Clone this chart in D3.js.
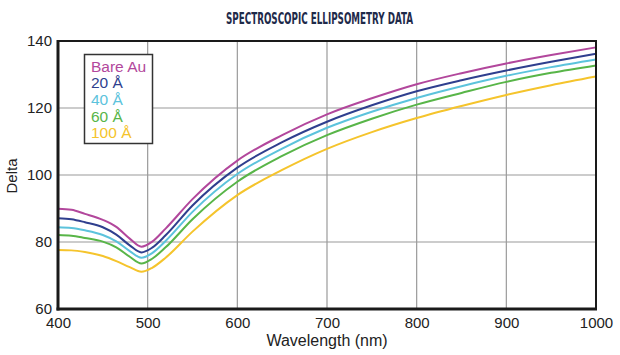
<!DOCTYPE html>
<html><head><meta charset="utf-8">
<script src="https://cdn.jsdelivr.net/npm/d3@7"></script>
<style>body{margin:0;background:#fff}svg{display:block}</style>
</head><body><svg id="c" width="620" height="355"></svg>
<script>
const wavelength = [400,415,430,450,465,480,493,505,520,550,600,650,700,750,800,850,900,950,1000];
const bareAu = [89.9,89.6,88.4,86.6,84.5,81.0,78.6,80.1,84.0,92.8,104.3,111.9,118.1,122.9,127.1,130.4,133.3,135.8,138.1];
const a20    = [87.1,86.8,85.9,84.4,82.2,79.0,76.9,78.3,82.0,90.9,102.2,109.8,115.9,120.8,125.0,128.3,131.2,133.8,136.2];
const a40    = [84.4,84.2,83.5,82.1,80.2,77.3,75.3,76.7,80.3,89.0,100.3,107.9,114.1,118.9,123.0,126.5,129.6,132.2,134.5];
const a60    = [82.1,81.9,81.2,80.1,78.4,75.6,73.6,75.0,78.4,86.8,98.0,105.7,111.9,116.8,121.0,124.5,127.8,130.5,132.7];
const a100   = [77.6,77.5,77.0,75.8,74.3,72.5,71.1,72.3,75.3,83.1,94.0,101.5,107.8,112.8,117.0,120.6,123.9,126.8,129.4];
const seriesNames = ["Bare Au","20 Å","40 Å","60 Å","100 Å"];
const seriesColors = ["#b2479c","#2f3f8e","#5cc3dc","#58b548","#f5c42c"];
const xTicks = [400,500,600,700,800,900,1000];
const yTicks = [60,80,100,120,140];

const series = [bareAu,a20,a40,a60,a100];
const svg = d3.select("#c");
const L=58,R=596,T=41,B=309;
const x = d3.scaleLinear().domain([400,1000]).range([L,R]);
const y = d3.scaleLinear().domain([60,140]).range([B,T]);

svg.append("text").attr("x",319.5).attr("y",23.5).attr("text-anchor","middle")
  .attr("font-family","DejaVu Sans Condensed, DejaVu Sans").attr("font-weight","bold")
  .attr("font-size",16).attr("fill","#1e2a4a")
  .attr("textLength",187).attr("lengthAdjust","spacingAndGlyphs")
  .text("SPECTROSCOPIC ELLIPSOMETRY DATA");

// grid
svg.append("g").selectAll("line").data(xTicks.slice(1,-1)).join("line")
  .attr("x1",d=>x(d)).attr("x2",d=>x(d)).attr("y1",T).attr("y2",B)
  .attr("stroke","#9a9a9a").attr("stroke-width",1.2);
svg.append("g").selectAll("line").data(yTicks.slice(1,-1)).join("line")
  .attr("x1",L).attr("x2",R).attr("y1",d=>y(d)).attr("y2",d=>y(d))
  .attr("stroke","#9a9a9a").attr("stroke-width",1.2);

// lines
const line = d3.line().curve(d3.curveMonotoneX);
series.forEach((s,i)=>{
  svg.append("path").attr("d",line(wavelength.map((w,j)=>[x(w),y(s[j])])))
    .attr("fill","none").attr("stroke",seriesColors[i]).attr("stroke-width",2);
});

// frame
svg.append("rect").attr("x",L).attr("y",T).attr("width",R-L).attr("height",B-T)
  .attr("fill","none").attr("stroke","#1a1a1a").attr("stroke-width",2);
svg.append("line").attr("x1",L).attr("x2",L).attr("y1",T-1).attr("y2",B+1.5).attr("stroke","#1a1a1a").attr("stroke-width",3);
svg.append("line").attr("x1",L-1.5).attr("x2",R+1).attr("y1",B).attr("y2",B).attr("stroke","#1a1a1a").attr("stroke-width",3);

// axes
const xAxis = d3.axisBottom(x).tickValues(xTicks).tickSize(0).tickPadding(8).tickFormat(d3.format("d"));
const gx = svg.append("g").attr("transform",`translate(0,${B})`).call(xAxis);
gx.select(".domain").remove();
gx.selectAll("text").attr("font-family","Liberation Sans, Arial, sans-serif").attr("font-size",15).attr("fill","#222");
const yAxis = d3.axisLeft(y).tickValues(yTicks).tickSize(0).tickPadding(6).tickFormat(d3.format("d"));
const gy = svg.append("g").attr("transform",`translate(${L},0)`).call(yAxis);
gy.select(".domain").remove();
gy.selectAll("text").attr("font-family","Liberation Sans, Arial, sans-serif").attr("font-size",15).attr("fill","#222");

svg.append("text").attr("x",327).attr("y",346).attr("text-anchor","middle")
  .attr("font-family","Liberation Sans, Arial, sans-serif").attr("font-size",16).attr("fill","#222")
  .text("Wavelength (nm)");
svg.append("text").attr("transform","translate(17,176) rotate(-90)").attr("text-anchor","middle")
  .attr("font-family","Liberation Sans, Arial, sans-serif").attr("font-size",15).attr("fill","#222")
  .text("Delta");

// legend
const lg = svg.append("g");
lg.append("rect").attr("x",84.5).attr("y",54.5).attr("width",68).attr("height",89)
  .attr("fill","#fff").attr("stroke","#333").attr("stroke-width",1.5);
lg.selectAll("text").data(seriesNames).join("text")
  .attr("x",91).attr("y",(d,i)=>71.5+i*16.7)
  .attr("font-family","Liberation Sans, Arial, sans-serif").attr("font-size",15.5)
  .attr("fill",(d,i)=>seriesColors[i]).text(d=>d);
</script></body></html>
